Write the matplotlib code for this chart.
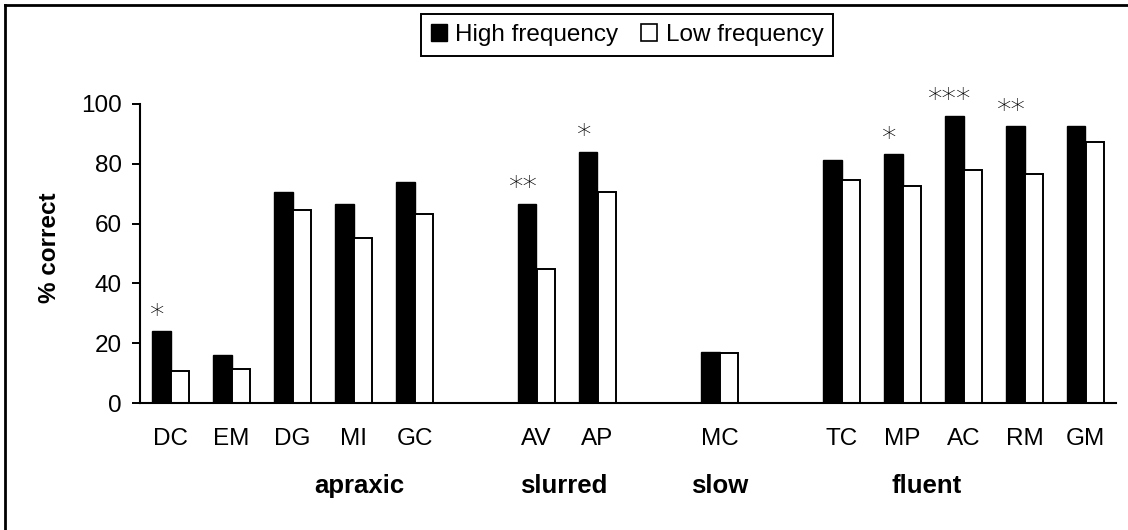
import numpy as np
import matplotlib.pyplot as plt
from matplotlib.patches import Patch
from matplotlib.lines import Line2D

# data
subjects = ['DC', 'EM', 'DG', 'MI', 'GC', 'AV', 'AP', 'MC', 'TC', 'MP', 'AC', 'RM', 'GM']
group_of = [0, 0, 0, 0, 0, 1, 1, 2, 3, 3, 3, 3, 3]
group_names = ['apraxic', 'slurred', 'slow', 'fluent']
high_freq = [24.0, 16.0, 70.5, 66.6, 73.9, 66.6, 84.1, 16.9, 81.3, 83.3, 96.1, 92.6, 92.6]
low_freq = [10.7, 11.3, 64.4, 55.1, 63.1, 44.8, 70.5, 16.7, 74.5, 72.5, 77.8, 76.6, 87.2]
stars = ['*', '', '', '', '', '**', '*', '', '', '*', '***', '**', '']

# layout
group_label_x = [3.1, 6.45, 9.0, 12.4]
bar_w = 0.3
fs = 17.5

plt.rcParams['font.family'] = ['Liberation Sans', 'DejaVu Sans']

fig = plt.figure(figsize=(11.28, 5.30), dpi=100)
ax = fig.add_axes([140 / 1128, 1 - 403 / 530, 976 / 1128, 299 / 530])

# one empty slot between groups
pos = np.arange(len(subjects)) + np.array(group_of)

ax.bar(pos - bar_w / 2, high_freq, bar_w, color='black', edgecolor='black', linewidth=1.0)
ax.bar(pos + bar_w / 2, low_freq, bar_w, color='white', edgecolor='black', linewidth=1.4)

for x, v, s in zip(pos - bar_w / 2, high_freq, stars):
    if s:
        ax.annotate(s, (x, v), xytext=(-3, 1), textcoords='offset points',
                    ha='center', va='bottom', fontsize=21, family='DejaVu Sans',
                    fontweight='light')

ax.set_xlim(-0.5, 15.5)
ax.set_ylim(0, 100)
ax.set_yticks(range(0, 101, 20))
ax.set_xticks(pos)
ax.set_xticklabels(subjects)
ax.tick_params(axis='y', length=6, width=1.4, pad=7, labelsize=fs)
ax.tick_params(axis='x', length=0, pad=18, labelsize=fs)
for side in ['top', 'right']:
    ax.spines[side].set_visible(False)
for side in ['left', 'bottom']:
    ax.spines[side].set_linewidth(1.5)

for gx, name in zip(group_label_x, group_names):
    ax.text(gx, -0.30, name, transform=ax.get_xaxis_transform(), ha='center',
            va='baseline', fontsize=18.5, fontweight='bold')

fig.text(50 / 1128, 1 - 247.5 / 530, '% correct', rotation=90, ha='center', va='center',
         fontsize=fs, fontweight='bold')

handles = [Patch(facecolor='black', edgecolor='black'),
           Patch(facecolor='white', edgecolor='black', linewidth=1.2)]
leg = fig.legend(handles, ['High frequency', 'Low frequency'], loc='center',
                 bbox_to_anchor=(627 / 1128, 1 - 35 / 530), ncol=2, fontsize=fs,
                 frameon=True, fancybox=False, edgecolor='black', framealpha=1,
                 handlelength=0.65, handleheight=0.65, handletextpad=0.35,
                 columnspacing=0.95, borderpad=0.4, borderaxespad=0)
leg.get_frame().set_linewidth(1.4)

# border of the chart area (only left and top are visible in the crop)
fig.add_artist(Line2D([5 / 1128, 5 / 1128], [0, 1 - 5 / 530], transform=fig.transFigure,
                      color='black', linewidth=2))
fig.add_artist(Line2D([5 / 1128, 1], [1 - 5 / 530, 1 - 5 / 530], transform=fig.transFigure,
                      color='black', linewidth=2))

fig.savefig('out.png', dpi=100)
